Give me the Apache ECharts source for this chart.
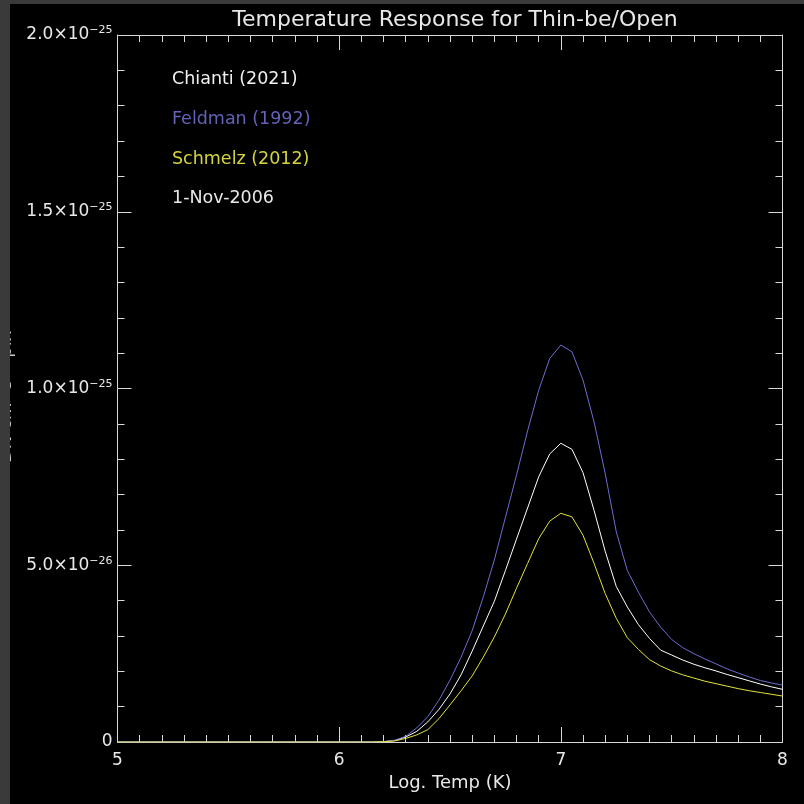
<!DOCTYPE html>
<html>
<head>
<meta charset="utf-8">
<title>Temperature Response for Thin-be/Open</title>
<script src="https://cdn.jsdelivr.net/npm/echarts@6/dist/echarts.min.js"></script>
<style>
  html, body { margin: 0; padding: 0; background: #3a3a3a; }
  #chart1 { position: absolute; left: 10px; top: 4px; width: 794px; height: 800px; background: #000; }
</style>
</head>
<body>
<div id="chart1"></div>
<script>
// log T grid (K)
const logT = [
  5.00, 5.05, 5.10, 5.15, 5.20, 5.25, 5.30, 5.35, 5.40, 5.45,
  5.50, 5.55, 5.60, 5.65, 5.70, 5.75, 5.80, 5.85, 5.90, 5.95,
  6.00, 6.05, 6.10, 6.15, 6.20, 6.25, 6.30, 6.35, 6.40, 6.45,
  6.50, 6.55, 6.60, 6.65, 6.70, 6.75, 6.80, 6.85, 6.90, 6.95,
  7.00, 7.05, 7.10, 7.15, 7.20, 7.25, 7.30, 7.35, 7.40, 7.45,
  7.50, 7.55, 7.60, 7.65, 7.70, 7.75, 7.80, 7.85, 7.90, 7.95,
  8.00
];

// responses in units of 1e-25
const chianti = [
  0, 0, 0, 0, 0, 0, 0, 0, 0, 0,
  0, 0, 0, 0, 0, 0, 0, 0, 0, 0,
  0, 0, 0, 0, 0.001, 0.004, 0.014, 0.030, 0.057, 0.092,
  0.136, 0.190, 0.257, 0.328, 0.398, 0.485, 0.574, 0.662, 0.750, 0.815,
  0.845, 0.828, 0.762, 0.655, 0.540, 0.440, 0.382, 0.332, 0.293, 0.260,
  0.246, 0.232, 0.220, 0.210, 0.201, 0.191, 0.182, 0.173, 0.164, 0.156,
  0.149
];
const feldman = [
  0, 0, 0, 0, 0, 0, 0, 0, 0, 0,
  0, 0, 0, 0, 0, 0, 0, 0, 0, 0,
  0, 0, 0, 0, 0.001, 0.005, 0.016, 0.040, 0.072, 0.118,
  0.175, 0.240, 0.315, 0.410, 0.515, 0.635, 0.755, 0.880, 0.995, 1.085,
  1.123, 1.104, 1.024, 0.905, 0.760, 0.595, 0.485, 0.424, 0.368, 0.325,
  0.290, 0.267, 0.250, 0.235, 0.221, 0.207, 0.195, 0.184, 0.174, 0.167,
  0.161
];
const schmelz = [
  0, 0, 0, 0, 0, 0, 0, 0, 0, 0,
  0, 0, 0, 0, 0, 0, 0, 0, 0, 0,
  0, 0, 0, 0, 0.001, 0.003, 0.010, 0.020, 0.035, 0.066,
  0.105, 0.145, 0.187, 0.240, 0.297, 0.362, 0.435, 0.505, 0.575, 0.625,
  0.647, 0.637, 0.585, 0.505, 0.420, 0.350, 0.295, 0.262, 0.233, 0.215,
  0.201, 0.190, 0.181, 0.172, 0.165, 0.158, 0.151, 0.145, 0.140, 0.135,
  0.130
];

const seriesNames = ['Chianti (2021)', 'Feldman (1992)', 'Schmelz (2012)'];
const seriesColors = ['#ffffff', '#6c6cd0', '#e2e23a'];
const legendColors = ['#f0f0f0', '#6262b8', '#d4d43e'];
const dateLabel = '1-Nov-2006';

// y tick labels: mantissa and exponent for 0, 0.5, 1.0, 1.5, 2.0 (x1e-25)
const yTickMant = ['0', '5.0×10', '1.0×10', '1.5×10', '2.0×10'];
const yTickExp = ['', '−26', '−25', '−25', '−25'];

const FONT = '"DejaVu Sans", sans-serif';
const AXIS_COLOR = '#d8d8d8';
const TEXT_COLOR = '#e8e8e8';

const pairs = (ys) => logT.map((t, i) => [t, ys[i]]);

const drawChart = (chartId) => {
  let chartDiv = document.getElementById(chartId);
  let myChart = echarts.init(chartDiv, null, { renderer: 'canvas' });

  const lineStyle = { color: AXIS_COLOR, width: 1 };
  const xCommon = {
    type: 'value', min: 5, max: 8, interval: 1,
    axisLine: { show: true, onZero: false, lineStyle: lineStyle },
    axisTick: { show: true, inside: true, length: 15, lineStyle: lineStyle },
    minorTick: { show: true, splitNumber: 10, length: 7, lineStyle: lineStyle },
    splitLine: { show: false },
    minorSplitLine: { show: false }
  };
  const yCommon = {
    type: 'value', min: 0, max: 2, interval: 0.5,
    axisLine: { show: true, onZero: false, lineStyle: lineStyle },
    axisTick: { show: true, inside: true, length: 14, lineStyle: lineStyle },
    minorTick: { show: true, splitNumber: 5, length: 7, lineStyle: lineStyle },
    splitLine: { show: false },
    minorSplitLine: { show: false }
  };

  let option = {
    backgroundColor: '#000',
    animation: false,
    title: {
      text: 'Temperature Response for Thin-be/Open',
      left: 440,
      textAlign: 'center',
      top: 0,
      textStyle: { color: TEXT_COLOR, fontSize: 22, fontWeight: 'normal', fontFamily: FONT }
    },
    legend: {
      orient: 'vertical',
      left: 152,
      top: 61,
      icon: 'none',
      itemWidth: 0,
      itemGap: 22,
      selectedMode: false,
      textStyle: { fontSize: 17.5, fontFamily: FONT },
      data: seriesNames.map((n, i) => ({ name: n, textStyle: { color: legendColors[i] } }))
    },
    graphic: [{
      type: 'text',
      left: 162,
      top: 185,
      style: { text: dateLabel, fill: TEXT_COLOR, font: '17.5px ' + FONT }
    }],
    grid: { left: 107.5, right: 21.5, top: 31, bottom: 62, containLabel: false, outerBoundsMode: 'none' },
    xAxis: [
      Object.assign({}, xCommon, {
        position: 'bottom',
        name: 'Log. Temp (K)',
        nameLocation: 'middle',
        nameGap: 31,
        nameTextStyle: { color: TEXT_COLOR, fontSize: 18, fontFamily: FONT },
        axisLabel: { color: TEXT_COLOR, fontSize: 17, fontFamily: FONT, margin: 10 }
      }),
      Object.assign({}, xCommon, { position: 'top', axisLabel: { show: false } })
    ],
    yAxis: [
      Object.assign({}, yCommon, {
        position: 'left',
        name: 'DN cm⁵ s⁻¹ pix⁻¹',
        nameLocation: 'middle',
        nameGap: 102,
        nameRotate: 90,
        nameTextStyle: { color: '#c8c8c8', fontSize: 18, fontFamily: FONT },
        axisLabel: {
          margin: 5,
          color: TEXT_COLOR,
          formatter: (v) => {
            let i = Math.round(v / 0.5);
            if (!yTickExp[i]) return '{m|' + yTickMant[i] + '}';
            return '{m|' + yTickMant[i] + '}{s|' + yTickExp[i] + '}';
          },
          rich: {
            m: { fontSize: 17, fontFamily: FONT, color: TEXT_COLOR, lineHeight: 20 },
            s: { fontSize: 11, fontFamily: FONT, color: TEXT_COLOR, verticalAlign: 'top' }
          }
        }
      }),
      Object.assign({}, yCommon, { position: 'right', axisLabel: { show: false } })
    ],
    series: seriesNames.map((n, i) => ({
      name: n,
      type: 'line',
      data: pairs([chianti, feldman, schmelz][i]),
      showSymbol: false,
      symbol: 'none',
      smooth: false,
      color: seriesColors[i],
      lineStyle: { color: seriesColors[i], width: 1 }
    }))
  };

  if (option && typeof option === 'object') {
    myChart.setOption(option);
  }
}; // End drawChart

drawChart('chart1');
</script>
</body>
</html>
